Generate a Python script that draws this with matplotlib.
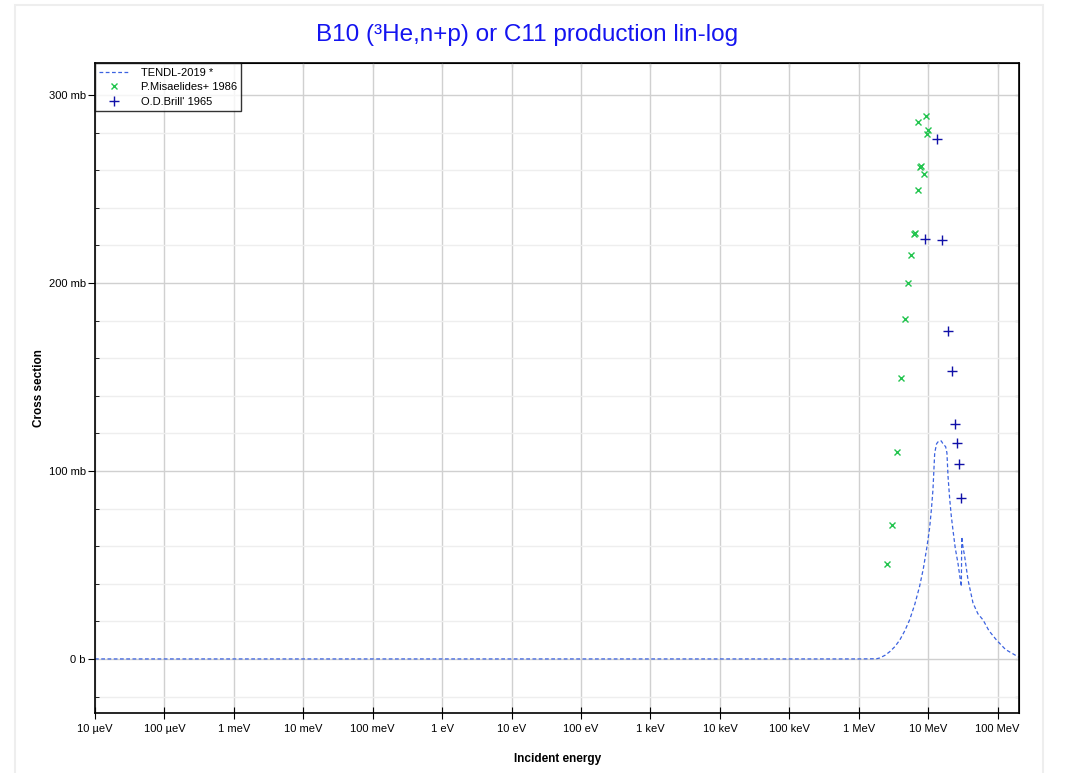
import numpy as np
import matplotlib
matplotlib.use("Agg")
import matplotlib.pyplot as plt
from matplotlib.ticker import FixedLocator, MultipleLocator, NullLocator, NullFormatter
from matplotlib.patches import Rectangle

plt.rcParams['font.family'] = ['Liberation Sans', 'DejaVu Sans']

# TENDL-2019 evaluation (energy in MeV, cross section in mb)
tendl_e = [1e-11, 1.0, 1.8, 2.0, 2.4, 2.8, 3.3, 3.9, 4.6, 5.4, 6.4, 7.5, 8.5, 9.6,
           10.5, 11.1, 11.7, 12.4, 13.2, 14.2, 15.4, 16.6, 17.8, 18.6, 19.3, 20.4,
           21.5, 22.7, 24.5, 26.8, 28.5, 30.0, 30.4, 31.2, 33.5, 37.4, 44.2, 52.0,
           61.5, 75.0, 96.0, 130.0, 200.0]
tendl_xs = [0, 0, 0.1, 0.5, 2.0, 3.9, 6.5, 10.1, 15.0, 20.8, 29.0, 38.5, 48.0, 59.8,
            70.0, 79.4, 90.0, 109.6, 114.5, 116.0, 116.0, 114.0, 113.0, 109.6, 97.0, 85.0,
            76.0, 68.7, 59.0, 51.0, 44.0, 38.5, 65.0, 61.0, 54.5, 42.1, 29.7, 24.0,
            20.8, 15.0, 10.1, 5.0, 1.0]

# P.Misaelides+ 1986
mis_e = [2.51, 2.99, 3.58, 4.09, 4.67, 5.09, 5.57, 6.22, 6.51, 7.10, 7.59, 7.95,
         8.67, 7.10, 9.17, 9.60, 10.0]
mis_xs = [50.5, 71.4, 109.9, 149.7, 180.6, 200.0, 214.9, 226.0, 226.8, 249.3, 261.6,
          262.3, 258.2, 285.9, 288.6, 279.5, 281.5]

# O.D.Brill' 1965
brill_e = [8.96, 13.35, 15.97, 19.05, 21.8, 24.3, 25.9, 27.7, 30.0]
brill_xs = [223.6, 276.5, 223.1, 174.4, 153.4, 125.2, 115.1, 103.9, 85.6]

x_ticks = [1e-5, 1e-4, 1e-3, 1e-2, 1e-1, 1, 10, 100, 1e3, 1e4, 1e5, 1e6, 1e7, 1e8]
x_labels = ['10 µeV', '100 µeV', '1 meV', '10 meV', '100 meV', '1 eV', '10 eV',
            '100 eV', '1 keV', '10 keV', '100 keV', '1 MeV', '10 MeV', '100 MeV']
y_ticks = [0, 100, 200, 300]
y_labels = ['0 b', '100 mb', '200 mb', '300 mb']

W, H = 1067, 773
fig = plt.figure(figsize=(W / 100, H / 100), dpi=100)
ax = fig.add_axes([95 / W, 1 - 712.7 / H, (1019.3 - 95) / W, (712.7 - 63.3) / H])

# faint frame around the whole chart
fig.patches.append(Rectangle((15 / W, -0.01), (1043 - 15) / W, 1 - 4.5 / H + 0.01,
                             transform=fig.transFigure, fill=False,
                             edgecolor='#eeeeee', lw=1.5))

ax.plot(np.array(tendl_e) * 1e6, tendl_xs, ls=(0, (3, 2)), color='#3b62e0', lw=0.9,
        label='TENDL-2019 *')
ax.plot(np.array(mis_e) * 1e6, mis_xs, 'x', color='#22c44e', ms=4, mew=1.0,
        label='P.Misaelides+ 1986')
ax.plot(np.array(brill_e) * 1e6, brill_xs, '+', color='#1010a8', ms=7, mew=1.0,
        label="O.D.Brill' 1965")

ax.set_xscale('log')
ax.set_xlim(1e-5, 2.05e8)
ax.set_ylim(-28.6, 316.9)

ax.xaxis.set_major_locator(FixedLocator(x_ticks))
ax.xaxis.set_minor_locator(NullLocator())
ax.set_xticklabels(x_labels)
ax.yaxis.set_major_locator(FixedLocator(y_ticks))
ax.yaxis.set_minor_locator(MultipleLocator(20))
ax.set_yticklabels(y_labels)

ax.grid(True, which='major', color='#d0d0d0', lw=1)
ax.grid(True, which='minor', axis='y', color='#eeeeee', lw=1)
ax.set_axisbelow(True)

ax.tick_params(axis='x', which='major', direction='inout', length=8, labelsize=8, pad=4)
ax.tick_params(axis='y', which='major', direction='out', length=5, labelsize=8, pad=1.5)
ax.tick_params(axis='y', which='minor', direction='in', length=3)
for s in ax.spines.values():
    s.set_linewidth(1.2)

# inward ticks on the right and top edges
ry = ax.secondary_yaxis('right')
ry.yaxis.set_major_locator(MultipleLocator(20))
ry.yaxis.set_major_formatter(NullFormatter())
ry.tick_params(direction='in', length=3)
tx = ax.secondary_xaxis('top')
tx.set_xscale('log')
tx.xaxis.set_major_locator(FixedLocator(x_ticks))
tx.xaxis.set_minor_locator(NullLocator())
tx.xaxis.set_major_formatter(NullFormatter())
tx.tick_params(direction='in', length=3)

ax.set_xlabel('Incident energy', fontsize=8.5, fontweight='bold', labelpad=14)
ax.set_ylabel('Cross section', fontsize=8.5, fontweight='bold', labelpad=3)

fig.text(527 / W, 1 - 35 / H, 'B10 (³He,n+p) or C11 production lin-log',
         color='#1414f0', fontsize=17.5, ha='center', va='center')

leg = ax.legend(loc='upper left', fontsize=8, frameon=True, fancybox=False,
                borderaxespad=0, handlelength=2.6, labelspacing=0.4,
                borderpad=0.4, handletextpad=1.1)
leg.get_frame().set_edgecolor('black')
leg.get_frame().set_linewidth(1)

fig.savefig('out.png', dpi=100)
